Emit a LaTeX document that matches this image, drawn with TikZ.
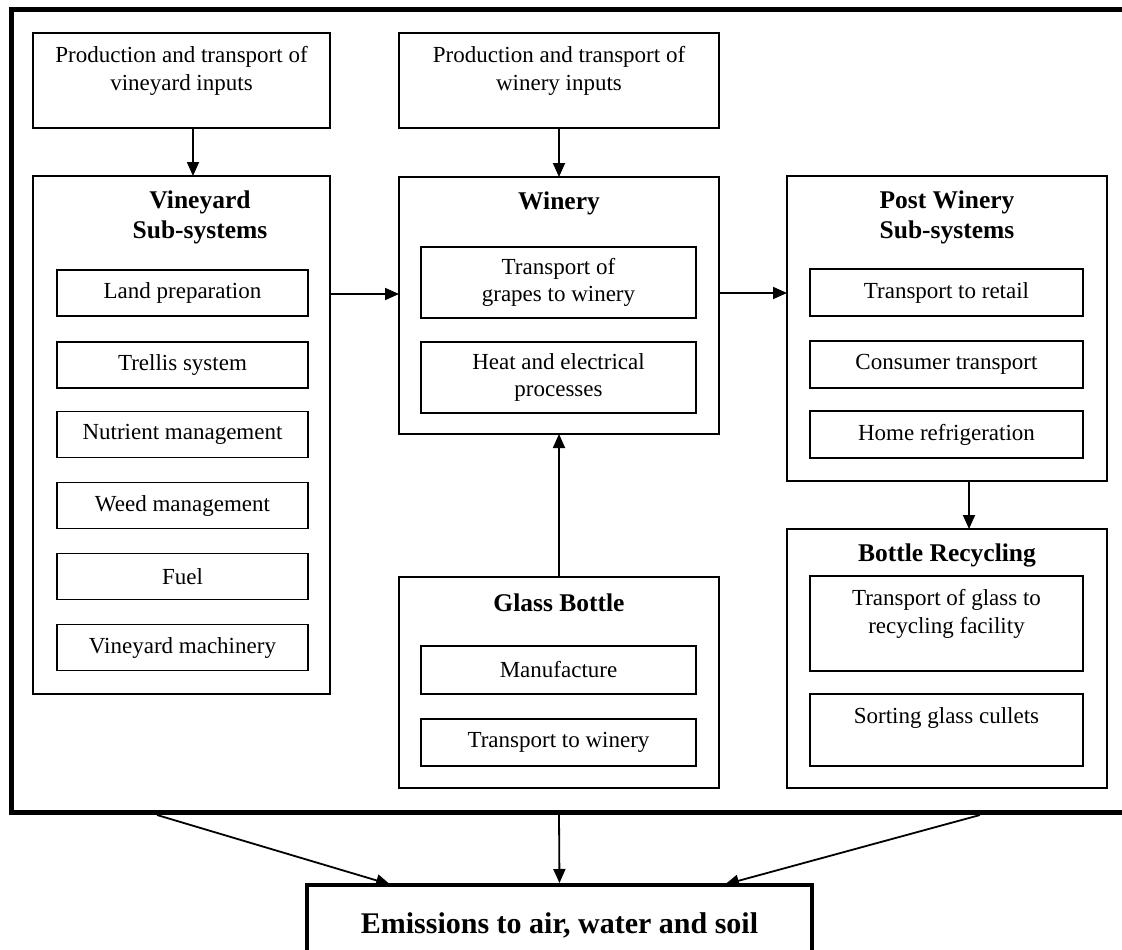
\documentclass[tikz,border=0pt]{standalone}
\usepackage{fontspec}
\setmainfont{Liberation Serif}
\usetikzlibrary{arrows.meta}
\begin{document}
\begin{tikzpicture}[x=1pt,y=-1pt,
  box/.style={draw, line width=1.4pt, inner sep=0pt, outer sep=0pt, align=center,
    font=\fontsize{23}{27.5}\selectfont},
  txt/.style={inner sep=0pt, align=center, font=\fontsize{23}{27.5}\selectfont},
  ttl/.style={inner sep=0pt, align=center, font=\fontsize{25.5}{30}\selectfont\bfseries},
  arr/.style={-{Triangle[length=14pt,width=12pt]}, line width=1.8pt},
  bigarr/.style={arr, shorten >=2pt}
]
\useasboundingbox (0,0) rectangle (1122,950);
\fill[white] (0,0) rectangle (1122,950);

% outer system boundary
\node[draw, line width=5pt, inner sep=0pt, outer sep=0pt, minimum width=1114.5pt, minimum height=802.5pt] (outer) at (568.75,411.25) {};

% input boxes
\node[box, minimum width=297pt, minimum height=95pt] (vinin) at (181.5,80.5) {};
\node[txt] (vinintxt) at (181.5,71) {Production and transport of\\vineyard inputs};
\node[box, minimum width=320pt, minimum height=95pt] (winin) at (559,80.5) {};
\node[txt] (winintxt) at (559,71) {Production and transport of\\winery inputs};

% vineyard
\node[box, minimum width=297pt, minimum height=518pt] (vin) at (181.5,435) {};
\node[ttl] (vint) at (200,217) {Vineyard\\Sub-systems};
\node[box, minimum width=251pt, minimum height=46pt] (land) at (182.5,293) {Land preparation};
\node[box, minimum width=251pt, minimum height=46pt] (trel) at (182.5,365) {Trellis system};
\node[box, minimum width=251pt, minimum height=46pt] (nutr) at (182.5,434.5) {Nutrient management};
\node[box, minimum width=251pt, minimum height=46pt] (weed) at (182.5,505.5) {Weed management};
\node[box, minimum width=251pt, minimum height=46pt] (fuel) at (182.5,576.5) {Fuel};
\node[box, minimum width=251pt, minimum height=46pt] (mach) at (182.5,647.5) {Vineyard machinery};

% winery
\node[box, minimum width=320pt, minimum height=257pt] (win) at (559,305.5) {};
\node[ttl] (wint) at (559,203) {Winery};
\node[box, minimum width=275pt, minimum height=71pt] (grap) at (558.5,282.5) {Transport of\\grapes to winery};
\node[box, minimum width=275pt, minimum height=71pt] (heat) at (558.5,377.5) {Heat and electrical\\processes};

% glass bottle
\node[box, minimum width=320pt, minimum height=211pt] (glass) at (559,682.5) {};
\node[ttl] (glasst) at (559,603) {Glass Bottle};
\node[box, minimum width=275pt, minimum height=48pt] (manu) at (558.5,670) {Manufacture};
\node[box, minimum width=275pt, minimum height=47pt] (trwin) at (558.5,742.5) {Transport to winery};

% post winery
\node[box, minimum width=320pt, minimum height=305pt] (post) at (947,328.5) {};
\node[ttl] (postt) at (947,217) {Post Winery\\Sub-systems};
\node[box, minimum width=273pt, minimum height=47pt] (reta) at (946.5,292.5) {Transport to retail};
\node[box, minimum width=273pt, minimum height=47pt] (cons) at (946.5,364.5) {Consumer transport};
\node[box, minimum width=273pt, minimum height=47pt] (home) at (946.5,434.5) {Home refrigeration};

% bottle recycling
\node[box, minimum width=320pt, minimum height=259pt] (recy) at (947,658.5) {};
\node[ttl] (recyt) at (947,555) {Bottle Recycling};
\node[box, minimum width=273pt, minimum height=95pt] (trgl) at (946.5,623.5) {};
\node[txt] (trgltxt) at (946.5,614) {Transport of glass to\\recycling facility};
\node[box, minimum width=273pt, minimum height=72pt] (sort) at (946.5,730) {};
\node[txt] (sorttxt) at (946.5,718) {Sorting glass cullets};

% emissions
\node[draw, line width=4.5pt, inner sep=0pt, outer sep=0pt, minimum width=505pt, minimum height=68pt] (em) at (559.5,919) {};
\node[inner sep=0pt, font=\fontsize{30}{36}\selectfont\bfseries] (emtxt) at (559.5,925) {Emissions to air, water and soil};

% connectors
\draw[arr] ([xshift=11.5pt]vinin.south) -- ([xshift=11.5pt]vin.north);
\draw[arr] (winin.south) -- (win.north);
\draw[arr] ([yshift=141pt]vin.east) -- ([yshift=11.5pt]win.west);
\draw[arr] ([yshift=12.5pt]win.east) -- ([yshift=35.5pt]post.west);
\draw[arr] (glass.north) -- (win.south);
\draw[arr] ([xshift=22pt]post.south) -- ([xshift=22pt]recy.north);

\draw[bigarr] ([xshift=145.5pt,yshift=-2.5pt]outer.south west) -- ([xshift=85pt]em.north west);
\draw[bigarr] ([xshift=547.5pt,yshift=-2.5pt]outer.south west) -- (em.north);
\draw[bigarr] ([xshift=968.5pt,yshift=-2.5pt]outer.south west) -- ([xshift=-89pt]em.north east);
\end{tikzpicture}
\end{document}
